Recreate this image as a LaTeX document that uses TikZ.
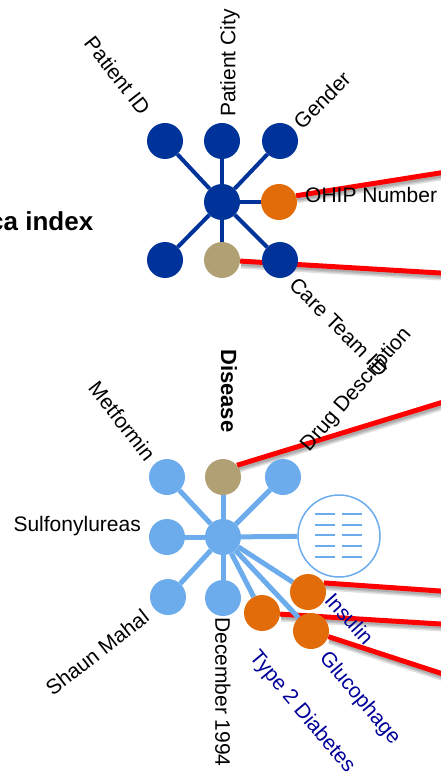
\documentclass[tikz,border=0pt]{standalone}
\usepackage{fontspec}
\setmainfont{Liberation Sans}
\usepackage{xcolor}
\usepackage{tikz}
\usetikzlibrary{backgrounds}

\definecolor{patblue}{HTML}{003399}
\definecolor{drugblue}{HTML}{6CACEC}
\definecolor{keyorange}{HTML}{E36C0A}
\definecolor{keytan}{HTML}{B1A073}
\definecolor{valnavy}{HTML}{000099}

\begin{document}
\begin{tikzpicture}[x=1pt,y=-1pt,
                    dot/.style={circle,fill=#1,
                    minimum size=36pt,inner sep=0pt},
                    spk/.style={draw=#1,line width=4pt},
                    lnk/.style={red,line width=5pt},
                    shd/.style={black,line width=#1,opacity=0.12},
                    lbl/.style={font=\fontsize{21}{25}\selectfont,
                    inner sep=0pt,rotate=#1},
                    lbl/.default=0]
    \useasboundingbox (0,0) rectangle (440,775);

    % patient record
    \node[dot=patblue](n000) at (222,202) {};
    \node[dot=patblue](n001) at (165,141) {};
    \node[dot=patblue](n002) at (222,141) {};
    \node[dot=patblue](n003) at (280,141) {};
    \node[dot=keyorange](n004) at (279,202) {};
    \node[dot=patblue](n005) at (165,260) {};
    \node[dot=keytan](n006) at (222,260) {};
    \node[dot=patblue](n007) at (280,260) {};
    \foreach \i in {1,...,7}
        \draw[spk=patblue] (n000) -- (n00\i);

    \node[lbl=-52,anchor=east](t001) at (146,112) {Patient ID};
    \node[lbl=90,anchor=west](t002) at (230,117) {Patient City};
    \node[lbl=45,anchor=west](t003) at (297,125) {Gender};
    \node[lbl,anchor=west](t004) at (305,195) {OHIP Number};
    \node[lbl=-45,anchor=west](t007) at (293,281) {Care Team ID};
    \node[font=\fontsize{26}{30}\selectfont\bfseries,inner sep=0pt,
          anchor=east](t000) at (93.5,221) {ca index};

    % medication record
    \node[dot=drugblue](n100) at (223,537) {};
    \node[dot=drugblue](n101) at (167,477) {};
    \node[dot=keytan](n102) at (223,477) {};
    \node[dot=drugblue](n103) at (283,477) {};
    \node[dot=drugblue](n104) at (167,537) {};
    \node[dot=drugblue](n105) at (168,597) {};
    \node[dot=drugblue](n106) at (223,598) {};
    \node[circle,draw=drugblue,line width=1.5pt,
          minimum size=82pt,inner sep=0pt](n107) at (339,536) {};
    \node[dot=keyorange](n108) at (308,592) {};
    \node[dot=keyorange](n109) at (262,613) {};
    \node[dot=keyorange](n110) at (311,631) {};
    \foreach \i in {101,...,110}
        \draw[spk=drugblue,line width=5pt] (n100) -- (n\i);
    \foreach \r in {-22,-11.5,-1,10,21}{
        \draw[drugblue,line width=2pt] ([shift={(-24,\r)}]n107.center) -- ++(20,0);
        \draw[drugblue,line width=2pt] ([shift={(3,\r)}]n107.center) -- ++(20,0);
    }

    \node[lbl=-52,anchor=east](t101) at (151,458) {Metformin};
    \node[font=\fontsize{22}{26}\selectfont\bfseries,inner sep=0pt,
          rotate=-90,anchor=west](t102) at (229,349) {Disease};
    \node[lbl=49,anchor=west](t103) at (305,449) {Drug Description};
    \node[lbl,anchor=east](t104) at (141,526.5) {Sulfonylureas};
    \node[lbl=38,anchor=east](t105) at (146,614) {Shaun Mahal};
    \node[lbl=-90,anchor=west](t106) at (223,617) {December 1994};
    \node[lbl=-48,anchor=west,valnavy](t108) at (329,596) {Insulin};
    \node[lbl=-50,anchor=west,valnavy](t109) at (253,654) {Type 2 Diabetes};
    \node[lbl=-50,anchor=west,valnavy](t110) at (323,655) {Glucophage};

    % links leaving the picture
    \coordinate (o000) at (460,169.8);
    \coordinate (o001) at (460,274.2);
    \coordinate (o100) at (460,396.9);
    \coordinate (o101) at (460,592.4);
    \coordinate (o102) at (460,625.2);
    \coordinate (o103) at (460,679.5);
    \begin{scope}[on background layer]
        \begin{scope}[transform canvas={shift={(1pt,-3.5pt)}}]
            \foreach \w in {8pt,5pt,2.5pt}{
                \draw[shd=\w] (n004.20) -- (o000);
                \draw[shd=\w] (n006) -- (o001);
                \draw[shd=\w] (n102.40) -- (o100);
                \draw[shd=\w] (n108.30) -- (o101);
                \draw[shd=\w] (n109) -- (o102);
                \draw[shd=\w] (n110) -- (o103);
            }
        \end{scope}
        \draw[lnk] (n004.20) -- (o000);
        \draw[lnk] (n006) -- (o001);
        \draw[lnk] (n102.40) -- (o100);
        \draw[lnk] (n108.30) -- (o101);
        \draw[lnk] (n109) -- (o102);
        \draw[lnk] (n110) -- (o103);
    \end{scope}
\end{tikzpicture}
\end{document}
